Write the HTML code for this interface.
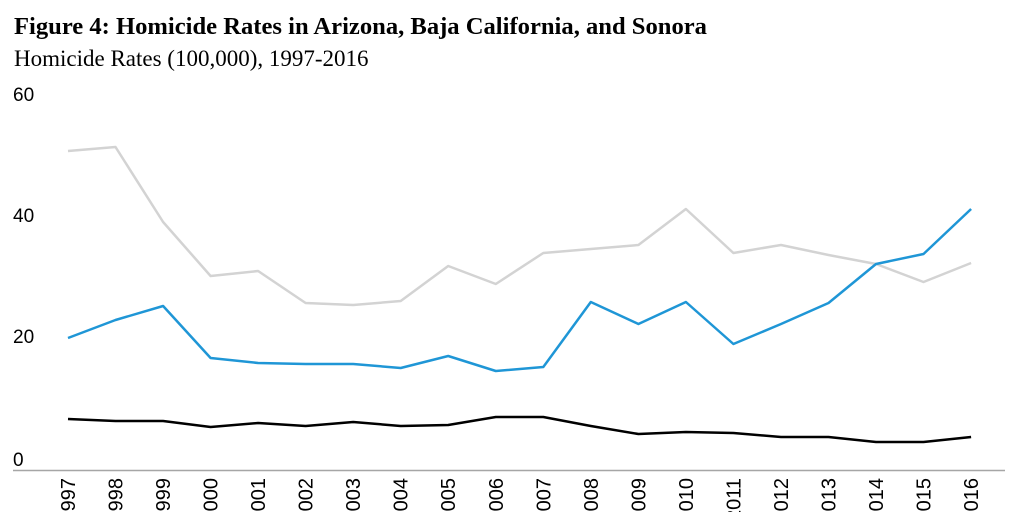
<!DOCTYPE html>
<html><head><style>
body{margin:0;width:1024px;height:512px;overflow:hidden;background:#fff}
</style></head><body>
<svg width="1024" height="512" xmlns="http://www.w3.org/2000/svg">
<text x="14" y="34" font-family="Liberation Serif, serif" font-weight="bold" font-size="24.6">Figure 4: Homicide Rates in Arizona, Baja California, and Sonora</text>
<text x="14" y="66" font-family="Liberation Serif, serif" font-size="23">Homicide Rates (100,000), 1997-2016</text>
<g font-family="Liberation Sans, sans-serif" font-size="19" fill="#000">
<text x="13" y="101">60</text>
<text x="13" y="222">40</text>
<text x="13" y="343">20</text>
<text x="13" y="466">0</text>
</g>
<line x1="13" y1="470.5" x2="1005" y2="470.5" stroke="#a6a6a6" stroke-width="1.5"/>
<g fill="none" stroke-width="2.5" stroke-linejoin="round">
<polyline id="g" stroke="#d3d3d3"/>
<polyline id="b" stroke="#1f96d6"/>
<polyline id="k" stroke="#000"/>
</g>
<g id="xl" font-family="Liberation Sans, sans-serif" font-size="20"></g>
</svg>
<script>
var G=[151,147,222,276,271,303,305,301,266,284,253,249,245,209,253,245,255,264,282,263];
var B=[338,320,306,358,363,364,364,368,356,371,367,302,324,302,344,324,303,264,254,209];
var K=[419,421,421,427,423,426,422,426,425,417,417,426,434,432,433,437,437,442,442,437];
function p(a){return a.map(function(y,i){return (68+i*47.53).toFixed(1)+","+y}).join(" ")}
document.getElementById("g").setAttribute("points",p(G));
document.getElementById("b").setAttribute("points",p(B));
document.getElementById("k").setAttribute("points",p(K));
var xl=document.getElementById("xl"),s="";
for(var i=0;i<20;i++){var x=68+i*47.53+7;s+='<text transform="translate('+x.toFixed(1)+',478) rotate(-90)" text-anchor="end">'+(1997+i)+'</text>';}
xl.innerHTML=s;
</script>
</body></html>
